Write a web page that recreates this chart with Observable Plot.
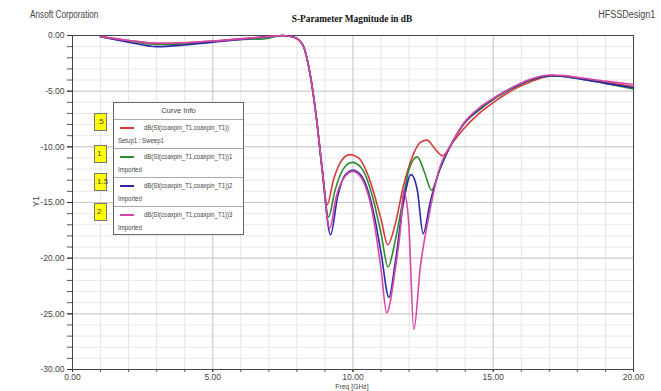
<!DOCTYPE html>
<html>
<head>
<meta charset="utf-8">
<script src="https://cdn.jsdelivr.net/npm/d3@7"></script>
<script src="https://cdn.jsdelivr.net/npm/@observablehq/plot@0.6"></script>
<style>
  body { margin: 0; background: #fff; }
  #wrap { position: relative; width: 661px; height: 391px; overflow: hidden; background: #fff;
          font-family: 'Liberation Sans', Arial, sans-serif; }
  #wrap svg { position: absolute; left: 0; top: 0; }
  .abs { position: absolute; white-space: nowrap; line-height: 1; }
</style>
</head>
<body>
<div id="wrap"></div>
<script>
// ---------- data ----------
const freqRed = [1.0,2.0,3.0,4.0,5.0,6.0,7.0,7.5,7.9,8.2,8.5,8.7,8.9,9.08,9.3,9.6,9.9,10.2,10.6,11.0,11.24,11.5,11.8,12.1,12.4,12.64,12.9,13.2,13.5,13.94,14.5,15.1,15.8,16.3,17.0,17.5,18.1,19.0,20.0];
const dbRed   = [-0.1,-0.45,-0.7,-0.65,-0.5,-0.3,-0.1,0.0,-0.15,-0.8,-3.9,-7.5,-12.0,-15.2,-13.0,-11.2,-10.7,-11.0,-13.0,-16.5,-18.8,-17.0,-13.5,-11.0,-9.6,-9.4,-10.1,-10.8,-9.8,-8.4,-7.0,-5.85,-4.75,-4.2,-3.65,-3.6,-3.85,-4.2,-4.6];

const freqGreen = [1.0,2.0,3.0,4.0,5.0,6.0,6.8,7.5,7.9,8.2,8.5,8.7,8.9,9.13,9.35,9.65,9.97,10.3,10.7,11.0,11.25,11.5,11.8,12.0,12.29,12.55,12.8,13.1,13.5,13.94,14.5,15.1,15.8,16.3,17.1,18.1,19.0,20.0];
const dbGreen   = [-0.1,-0.5,-0.8,-0.75,-0.55,-0.35,-0.3,0.0,-0.15,-0.8,-3.9,-7.5,-12.0,-16.3,-14.0,-12.0,-11.4,-11.9,-14.5,-17.8,-20.8,-18.5,-14.5,-12.0,-10.9,-12.3,-13.9,-12.0,-9.8,-8.0,-6.7,-5.6,-4.6,-4.05,-3.6,-3.9,-4.3,-4.8];

const freqBlue = [1.0,2.0,3.0,4.0,5.0,6.0,7.0,7.5,7.9,8.2,8.5,8.7,8.9,9.2,9.45,9.7,10.0,10.3,10.7,11.0,11.28,11.5,11.8,12.07,12.3,12.5,12.75,13.0,13.5,13.94,14.5,15.1,15.8,16.3,17.1,18.1,19.0,20.0];
const dbBlue   = [-0.1,-0.6,-1.0,-0.85,-0.6,-0.35,-0.1,0.0,-0.15,-0.8,-3.9,-7.5,-12.0,-17.9,-14.5,-12.6,-12.1,-12.6,-15.5,-19.5,-23.5,-20.5,-15.0,-12.5,-14.0,-17.8,-15.0,-12.7,-9.8,-7.95,-6.6,-5.5,-4.55,-4.0,-3.6,-3.9,-4.3,-4.7];

const freqMagenta = [1.0,2.0,3.0,4.0,5.0,6.0,7.0,7.5,7.9,8.2,8.5,8.7,8.9,9.17,9.4,9.7,10.0,10.3,10.7,11.0,11.2,11.5,11.72,11.8,11.98,12.17,12.4,12.7,13.1,13.5,13.94,14.5,15.1,15.8,16.3,17.1,18.1,19.0,20.0];
const dbMagenta   = [-0.1,-0.45,-0.7,-0.65,-0.5,-0.3,-0.1,0.0,-0.15,-0.8,-3.9,-7.5,-12.0,-17.3,-14.5,-12.7,-12.2,-12.8,-16.0,-21.0,-24.9,-21.1,-16.6,-13.9,-16.6,-26.4,-20.8,-16.3,-11.8,-9.8,-7.9,-6.5,-5.5,-4.5,-3.95,-3.55,-3.8,-4.1,-4.4];

const seriesNames  = ["dB(St(coaxpin_T1,coaxpin_T1))","dB(St(coaxpin_T1,coaxpin_T1))1","dB(St(coaxpin_T1,coaxpin_T1))2","dB(St(coaxpin_T1,coaxpin_T1))3"];
const seriesSource = ["Setup1 : Sweep1","Imported","Imported","Imported"];
const markerLabels = [".5","1","1.5","2"];
const xMajorTicks = [0,5,10,15,20];
const yMajorTicks = [0,-5,-10,-15,-20,-25,-30];
const titleText = "S-Parameter Magnitude in dB";
const leftHeader = "Ansoft Corporation";
const rightHeader = "HFSSDesign1";
const xLabel = "Freq [GHz]";
const yLabel = "Y1";
const legendTitle = "Curve Info";

// ---------- styles ----------
const colors = ["#d63a3a","#2f8a2f","#2a2aa8","#d845a8"];

const toRows = (fs, ds) => fs.map((f,i) => ({f, db: ds[i]}));
const series = [toRows(freqRed,dbRed), toRows(freqGreen,dbGreen), toRows(freqBlue,dbBlue), toRows(freqMagenta,dbMagenta)];

const fmt = d => d.toFixed(2);
const chart = Plot.plot({
  width: 661, height: 391,
  marginLeft: 72, marginRight: 28, marginTop: 35, marginBottom: 22,
  x: {domain: [0,20], label: null},
  y: {domain: [-30,0], label: null},
  style: {fontFamily: "'Liberation Sans',Arial,sans-serif", fontSize: "8.5px", background: "#fff", color: "#333"},
  marks: [
    Plot.gridX(d3.range(0,21,1), {stroke: "#e4e4e4", strokeOpacity: 1}),
    Plot.gridY(d3.range(-30,1,1), {stroke: "#e8e8e8", strokeOpacity: 1}),
    Plot.gridX([5,10,15], {stroke: "#cccccc", strokeOpacity: 1}),
    Plot.gridY([-5,-10,-15,-20,-25], {stroke: "#c8c8c8", strokeOpacity: 1}),
    Plot.axisY(d3.range(-30,1,1), {tickSize: 5, tickFormat: () => "", stroke: "#555", label: null}),
    Plot.axisY(yMajorTicks, {tickSize: 5, tickPadding: 3, tickFormat: fmt, fill: "#444", label: null}),
    Plot.axisX(d3.range(0,21,1), {tickSize: 3, tickFormat: () => "", stroke: "#555", label: null}),
    Plot.axisX(xMajorTicks, {tickSize: 3, tickPadding: 1, tickFormat: fmt, fill: "#444", label: null}),
    Plot.frame({stroke: "#444"}),
    ...series.map((s,i) => Plot.line(s, {x: "f", y: "db", stroke: colors[i], strokeWidth: 1.6, curve: "monotone-x"}))
  ]
});
const wrap = document.getElementById("wrap");
wrap.appendChild(chart);

function addText(parent, txt, css) {
  const d = document.createElement("div");
  d.className = "abs";
  d.textContent = txt;
  Object.assign(d.style, css);
  parent.appendChild(d);
  return d;
}
addText(wrap, leftHeader, {left: "30px", top: "10px", fontSize: "10px", color: "#444", transform: "scaleX(0.82)", transformOrigin: "left top"});
addText(wrap, rightHeader, {right: "6px", top: "10px", fontSize: "10px", color: "#444", transform: "scaleX(0.9)", transformOrigin: "right top"});
addText(wrap, titleText, {left: "352px", top: "13px", fontSize: "11px", fontWeight: "bold", color: "#111", fontFamily: "'Liberation Serif','DejaVu Serif',serif", transform: "translateX(-50%) scaleX(0.85)", transformOrigin: "center top"});
addText(wrap, xLabel, {left: "352px", top: "383px", fontSize: "8px", color: "#444", transform: "translateX(-50%) scaleX(0.85)"});
addText(wrap, yLabel, {left: "31px", top: "197px", fontSize: "9px", color: "#444", transform: "rotate(-90deg)", transformOrigin: "center center"});

// legend
const lg = document.createElement("div");
Object.assign(lg.style, {position: "absolute", left: "113px", top: "102px", width: "129px", height: "131px", border: "1px solid #666", background: "#fff", boxSizing: "content-box"});
wrap.appendChild(lg);
addText(lg, legendTitle, {left: "0", width: "129px", textAlign: "center", top: "4px", fontSize: "7.5px", color: "#444"});
seriesNames.forEach((name, i) => {
  const top = 16 + i*29;
  const sep = document.createElement("div");
  Object.assign(sep.style, {position: "absolute", left: "0", width: "129px", top: top + "px", height: "0", borderTop: "1px solid #aaa"});
  lg.appendChild(sep);
  const ln = document.createElement("div");
  Object.assign(ln.style, {position: "absolute", left: "6px", width: "14px", top: (top + 8) + "px", height: "0", borderTop: "2px solid " + colors[i]});
  lg.appendChild(ln);
  addText(lg, name, {left: "30px", top: (top + 5) + "px", fontSize: "7px", color: "#444", transform: "scaleX(0.86)", transformOrigin: "left top"});
  addText(lg, seriesSource[i], {left: "4px", top: (top + 18) + "px", fontSize: "7px", color: "#444", transform: "scaleX(0.86)", transformOrigin: "left top"});
});
// yellow markers
const markerTops = [113, 145, 173, 203];
markerLabels.forEach((m, i) => {
  addText(wrap, m, {left: "94px", top: markerTops[i] + "px", width: "13px", height: "18px", background: "#ffff00", border: "1px solid #777", fontSize: "8px", color: "#444", paddingLeft: "2px", paddingTop: "4px", boxSizing: "border-box", textAlign: "left"});
});
</script>
</body>
</html>
